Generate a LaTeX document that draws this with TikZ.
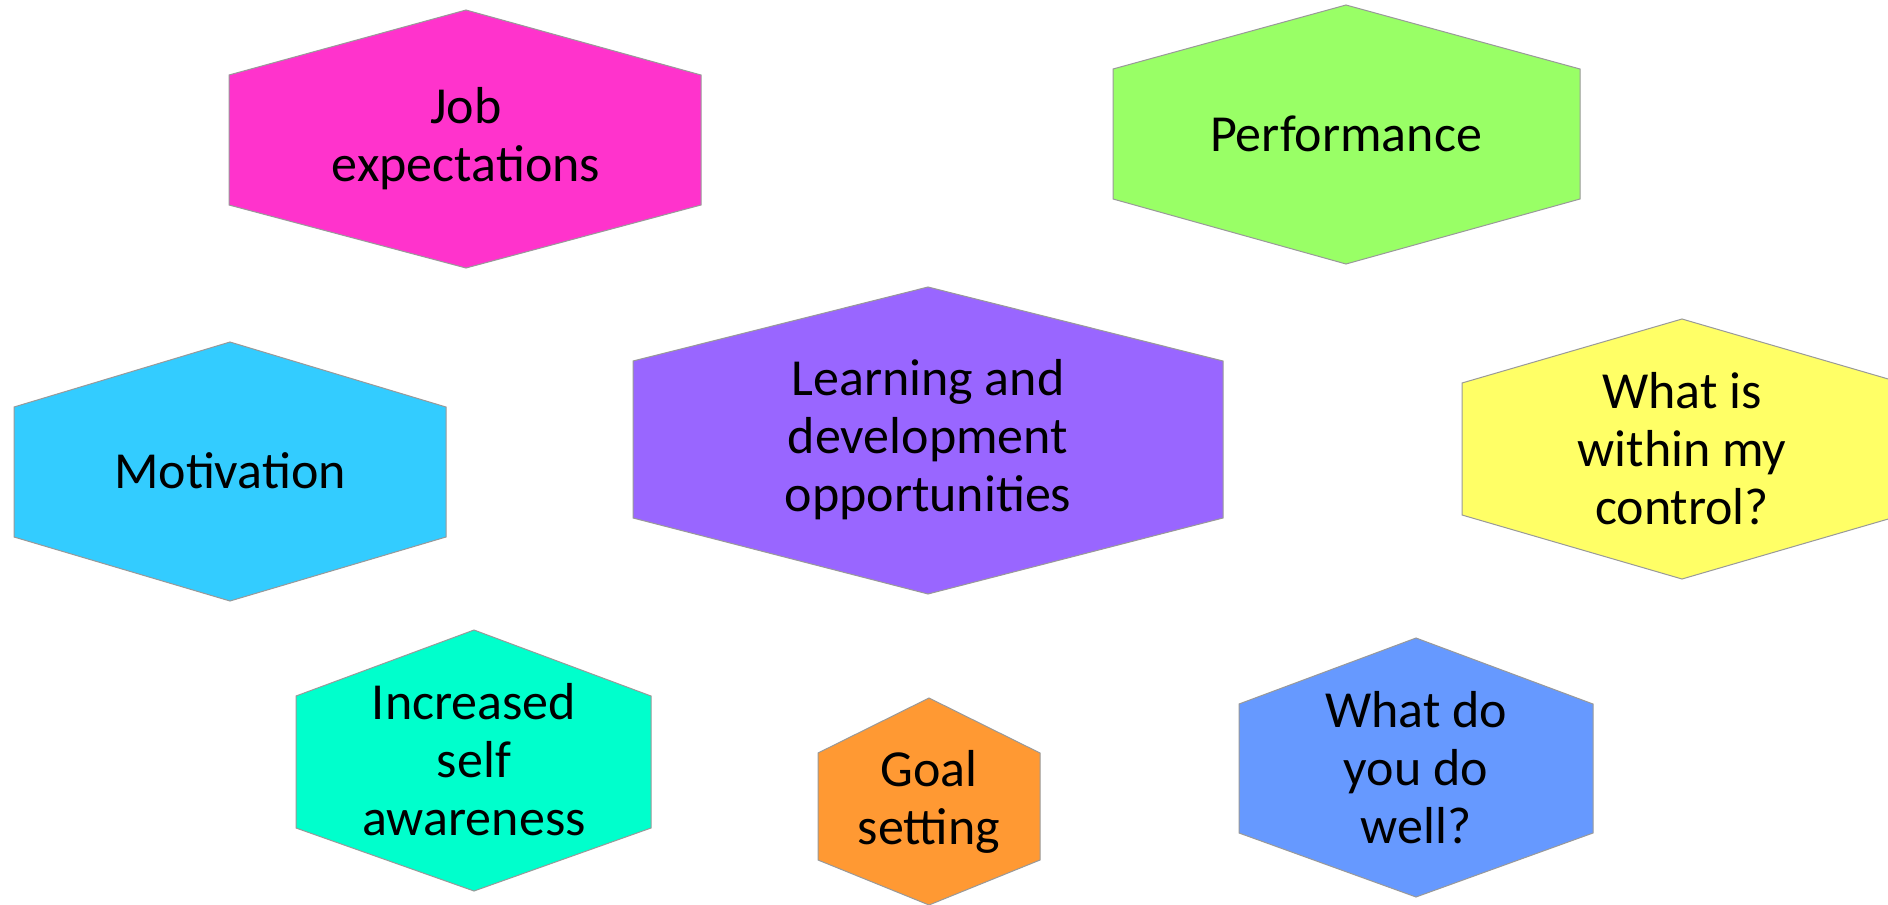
\documentclass[tikz,border=0pt]{standalone}
\usepackage{fontspec}
\setmainfont{Carlito}
\usepackage{tikz}
\usetikzlibrary{positioning}

\definecolor{jobpink}{HTML}{FF33CC}
\definecolor{perfgreen}{HTML}{99FF66}
\definecolor{motblue}{HTML}{33CCFF}
\definecolor{learnpurple}{HTML}{9966FF}
\definecolor{ctrlyellow}{HTML}{FFFF66}
\definecolor{selfteal}{HTML}{00FFCC}
\definecolor{goalorange}{HTML}{FF9933}
\definecolor{wellblue}{HTML}{6699FF}

\tikzset{
  hexa/.style={draw=black!40, line width=1pt},
  hexlabel/.style={align=center, inner sep=0pt, font=\fontsize{52}{58}\selectfont}
}

\begin{document}
\begin{tikzpicture}[x=1pt,y=-1pt]
  \useasboundingbox (0,0) rectangle (1888,905) ;
  \fill[white] (0,0) rectangle (1888,905) ;
  \filldraw[hexa,fill=jobpink] (229,75) -- (466,10) -- (701,75) -- (701,205) -- (466,268) -- (229,205) -- cycle ; %Draw job hexagon
  \node[hexlabel] (job) at (466,139) {Job\\expectations} ;
  \filldraw[hexa,fill=perfgreen] (1113,69) -- (1346,5) -- (1580,69) -- (1580,199) -- (1346,264) -- (1113,199) -- cycle ; %Draw performance hexagon
  \node[hexlabel] (perf) at (1346,134) {Performance} ;
  \filldraw[hexa,fill=motblue] (14,407) -- (230,342) -- (446,407) -- (446,537) -- (230,601) -- (14,537) -- cycle ; %Draw motivation hexagon
  \node[hexlabel] (motiv) at (230,471) {Motivation} ;
  \filldraw[hexa,fill=learnpurple] (633,361) -- (928,287) -- (1223,361) -- (1223,518) -- (928,594) -- (633,518) -- cycle ; %Draw centre hexagon
  \node[hexlabel] (learn) at (928,440) {Learning and\\development\\opportunities} ;
  \filldraw[hexa,fill=ctrlyellow] (1462,383) -- (1682,319) -- (1902,383) -- (1902,515) -- (1682,579) -- (1462,515) -- cycle ; %Draw control hexagon, cut at the edge
  \node[hexlabel] (ctrl) at (1682,449) {What is\\within my\\control?} ;
  \filldraw[hexa,fill=selfteal] (296,696) -- (474,630) -- (651,696) -- (651,828) -- (474,891) -- (296,828) -- cycle ; %Draw self awareness hexagon
  \node[hexlabel] (self) at (474,760) {Increased\\self\\awareness} ;
  \filldraw[hexa,fill=goalorange] (818,753) -- (929,698) -- (1040,753) -- (1040,860) -- (929,905) -- (818,860) -- cycle ; %Draw goal hexagon
  \node[hexlabel] (goal) at (929,802) {Goal\\setting} ;
  \filldraw[hexa,fill=wellblue] (1239,704) -- (1416,638) -- (1593,704) -- (1593,833) -- (1416,897) -- (1239,833) -- cycle ; %Draw do well hexagon
  \node[hexlabel] (well) at (1416,768) {What do\\you do\\well?} ;
\end{tikzpicture}
\end{document}
